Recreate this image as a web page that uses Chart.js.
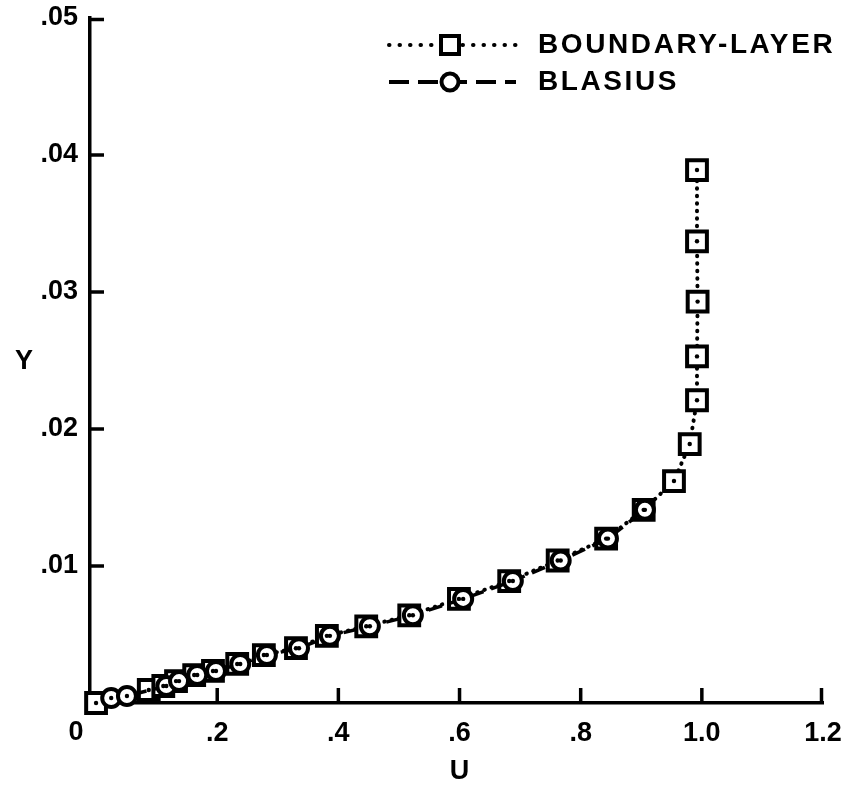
<!DOCTYPE html>
<html>
<head>
<meta charset="utf-8">
<script src="https://cdn.jsdelivr.net/npm/chart.js@4/dist/chart.umd.min.js"></script>
<style>
  body { margin: 0; background: #fff; }
  .wrap { width: 842px; height: 789px; }
</style>
</head>
<body>
<div class="wrap"><canvas id="profile"></canvas></div>
<script>
// boundary-layer solution (squares)
const blU = [0, 0.087, 0.111, 0.132, 0.162, 0.193, 0.233, 0.277, 0.330, 0.381, 0.446, 0.517, 0.599, 0.682, 0.762, 0.842, 0.904, 0.954, 0.980, 0.992, 0.992, 0.993, 0.992, 0.992];
const blY = [0, 0.00095, 0.00124, 0.0016, 0.00204, 0.00234, 0.00285, 0.0035, 0.0040, 0.0049, 0.0056, 0.0064, 0.0076, 0.0089, 0.0104, 0.0120, 0.0141, 0.0162, 0.0189, 0.0221, 0.0253, 0.0293, 0.0337, 0.0389];
// Blasius solution (circles)
const blasU = [0.025, 0.051, 0.116, 0.137, 0.167, 0.198, 0.238, 0.282, 0.335, 0.386, 0.452, 0.523, 0.606, 0.688, 0.767, 0.845, 0.906];
const blasY = [0.00036, 0.00051, 0.00124, 0.0016, 0.00204, 0.00234, 0.00285, 0.0035, 0.0040, 0.0049, 0.0056, 0.0064, 0.0076, 0.0089, 0.0104, 0.0120, 0.0141];

const xTicks = [0.2, 0.4, 0.6, 0.8, 1.0, 1.2];
const xTickLabels = [".2", ".4", ".6", ".8", "1.0", "1.2"];
const yTicks = [0.01, 0.02, 0.03, 0.04, 0.05];
const yTickLabels = [".01", ".02", ".03", ".04", ".05"];
const seriesNames = ["BOUNDARY-LAYER", "BLASIUS"];

const FONT = "'Liberation Sans', Arial, sans-serif";
const toPts = (xs, ys) => xs.map((x, i) => ({ x: x, y: ys[i] }));

// inward tick marks, center dots, corner labels, legend
const decorations = {
  id: "decorations",
  afterDatasetsDraw(chart) {
    const ctx = chart.ctx;
    ctx.save();
    ctx.fillStyle = "#000";
    chart.data.datasets.forEach((ds, i) => {
      chart.getDatasetMeta(i).data.forEach((p) => {
        ctx.beginPath();
        ctx.arc(p.x, p.y, 2.2, 0, Math.PI * 2);
        ctx.fill();
      });
    });
    ctx.restore();
  },
  afterDraw(chart) {
    const ctx = chart.ctx;
    const xs = chart.scales.x;
    const ys = chart.scales.y;
    const area = chart.chartArea;
    ctx.save();
    ctx.strokeStyle = "#000";
    ctx.lineWidth = 3.5;
    xTicks.forEach((v) => {
      const px = Math.min(xs.getPixelForValue(v), area.right - 1.5);
      ctx.beginPath();
      ctx.moveTo(px, area.bottom);
      ctx.lineTo(px, area.bottom - 15);
      ctx.stroke();
    });
    yTicks.forEach((v) => {
      const py = Math.max(ys.getPixelForValue(v), area.top + 1.5);
      ctx.beginPath();
      ctx.moveTo(area.left, py);
      ctx.lineTo(area.left + 14, py);
      ctx.stroke();
    });

    ctx.fillStyle = "#000";
    ctx.font = "bold 27px " + FONT;
    ctx.textBaseline = "middle";
    ctx.textAlign = "center";
    ctx.fillText("0", area.left - 14, 733);
    ctx.fillText("U", xs.getPixelForValue(0.6), 772);
    ctx.fillText("Y", 24, 362);

    // legend
    const rows = [45, 82];
    const dashes = [[0.5, 10], [20, 9]];
    chart.data.datasets.forEach((ds, i) => {
      const y = rows[i];
      ctx.save();
      ctx.lineWidth = 4;
      ctx.lineCap = ds.borderCapStyle;
      ctx.setLineDash(dashes[i]);
      ctx.beginPath();
      ctx.moveTo(389, y);
      ctx.lineTo(516, y);
      ctx.stroke();
      ctx.setLineDash([]);
      ctx.fillStyle = "#fff";
      ctx.lineWidth = 4;
      ctx.beginPath();
      if (ds.pointStyle === "rect") {
        ctx.rect(441, y - 9, 18, 18);
      } else {
        ctx.arc(450, y, 8.5, 0, Math.PI * 2);
      }
      ctx.fill();
      ctx.stroke();
      ctx.restore();
      ctx.save();
      ctx.font = "bold 28px " + FONT;
      ctx.letterSpacing = "2.6px";
      ctx.textAlign = "left";
      ctx.textBaseline = "middle";
      ctx.fillText(ds.label, 538, y);
      ctx.restore();
    });
    ctx.restore();
  },
};

new Chart(document.getElementById("profile"), {
  type: "scatter",
  data: {
    datasets: [
      {
        label: seriesNames[0],
        data: toPts(blU, blY),
        showLine: true,
        clip: false,
        order: 1,
        borderColor: "#000",
        borderWidth: 4,
        borderDash: [0.5, 7],
        borderCapStyle: "round",
        pointStyle: "rect",
        pointRadius: 14,
        pointBorderWidth: 4,
        pointBackgroundColor: "#fff",
        pointBorderColor: "#000",
      },
      {
        label: seriesNames[1],
        data: toPts(blasU, blasY),
        showLine: true,
        clip: false,
        order: 0,
        borderColor: "#000",
        borderWidth: 3.5,
        borderDash: [14, 8],
        borderCapStyle: "butt",
        pointStyle: "circle",
        pointRadius: 9,
        pointBorderWidth: 4,
        pointBackgroundColor: "#fff",
        pointBorderColor: "#000",
      },
    ],
  },
  options: {
    responsive: true,
    maintainAspectRatio: false,
    animation: false,
    layout: { padding: { top: 16, right: 19, left: 0, bottom: 0 } },
    plugins: {
      legend: { display: false },
      tooltip: { enabled: false },
    },
    scales: {
      x: {
        type: "linear",
        min: -0.01,
        max: 1.2,
        afterFit: (s) => { s.height = 86; s.paddingLeft = 0; s.paddingRight = 0; },
        afterBuildTicks: (s) => { s.ticks = xTicks.map((v) => ({ value: v })); },
        border: { display: true, color: "#000", width: 3.5 },
        grid: { display: false, drawTicks: false },
        ticks: {
          padding: 14,
          color: "#000",
          autoSkip: false,
          maxRotation: 0,
          font: { family: FONT, size: 27, weight: "bold" },
          callback: (v) => xTickLabels[xTicks.indexOf(v)],
        },
      },
      y: {
        type: "linear",
        min: 0,
        max: 0.05,
        afterFit: (s) => { s.width = 90; s.paddingTop = 0; s.paddingBottom = 0; },
        afterBuildTicks: (s) => { s.ticks = yTicks.map((v) => ({ value: v })); },
        border: { display: true, color: "#000", width: 3.5 },
        grid: { display: false, drawTicks: false },
        ticks: {
          padding: 12,
          color: "#000",
          autoSkip: false,
          font: { family: FONT, size: 27, weight: "bold" },
          callback: (v) => yTickLabels[yTicks.indexOf(v)],
        },
      },
    },
  },
  plugins: [decorations],
});
</script>
</body>
</html>
